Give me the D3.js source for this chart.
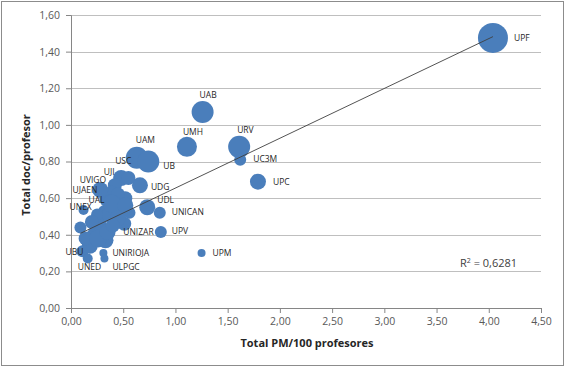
<!DOCTYPE html>
<html>
<meta charset="utf-8" />
<head>
<style>
body { margin: 0; background: #fff; }
svg text { font-family: "Open Sans", "Noto Sans", sans-serif; fill: #404040; }
.tick text { font-size: 10.5px; fill: #595959; }
.lbl { font-size: 8.5px; fill: #262626; }
.title { font-size: 11px; font-weight: bold; fill: #262626; }
</style>
<script src="https://cdn.jsdelivr.net/npm/d3@7"></script>
</head>
<body>
<svg class="chart"></svg>
<script>
var width = 567, height = 368;

/********
 * Data *
 ********/
// university labels ("" = unlabelled bubble)
var names = ["UPF","UAB","UMH","URV","UC3M","UPC","UAM","UB","UDG","UDL","UNICAN","UPV","UPM",
             "USC","UJI","UVIGO","UJAEN","UAL","UNEX","UNIZAR","UBU","UNIRIOJA","UNED","ULPGC",
             "","","","","","","","","","","","",
             "","","","","","","","",""];
// Total PM/100 profesores
var pmValues = [4.04,1.26,1.11,1.61,1.62,1.79,0.63,0.74,0.66,0.73,0.85,0.86,1.25,
                0.48,0.42,0.39,0.33,0.33,0.12,0.51,0.11,0.31,0.16,0.32,
                0.09,0.23,0.33,0.18,0.28,0.37,0.47,0.52,0.45,0.25,0.56,0.14,
                0.28,0.39,0.52,0.45,0.26,0.35,0.20,0.55,0.40];
// Total doc/profesor
var docValues = [1.475,1.07,0.88,0.88,0.81,0.69,0.82,0.80,0.67,0.55,0.52,0.415,0.30,
                 0.71,0.67,0.63,0.59,0.52,0.535,0.46,0.31,0.30,0.27,0.27,
                 0.44,0.40,0.37,0.34,0.45,0.51,0.54,0.60,0.62,0.51,0.52,0.38,
                 0.645,0.57,0.56,0.49,0.38,0.415,0.47,0.71,0.45];
// bubble size
var sizes = [225,121,100,121,36,64,121,121,64,64,36,36,16,
             64,49,49,36,64,25,49,36,16,25,16,
             36,64,64,64,49,64,49,49,49,36,36,49,
             64,81,64,64,81,64,49,49,49];

var xTicks = [0,0.5,1,1.5,2,2.5,3,3.5,4,4.5];
var yTicks = [0,0.2,0.4,0.6,0.8,1.0,1.2,1.4,1.6];

var trendSlope = 0.272, trendIntercept = 0.383;
var rSquared = "0,6281";

// label offsets from bubble centre (layout only)
var labelOffset = {
  UPF:[21,1], UAB:[-3,-16], UMH:[-4,-14], URV:[-2,-16], UC3M:[13,0], UPC:[15,1],
  UAM:[-1,-17], UB:[15,5], UDG:[11,2], UDL:[10,-7], UNICAN:[12,0], UPV:[11,0], UPM:[11,1],
  USC:[-6,-16], UJI:[-11,-13], UVIGO:[-32,-12], UJAEN:[-33,-9], UAL:[-17,-12],
  UNEX:[-14,-2], UNIZAR:[-1,9], UBU:[-17,1], UNIRIOJA:[9,1], UNED:[-10,9], ULPGC:[8,9]
};

var data = names.map(function(n,i){
  return {name:n, x:pmValues[i], y:docValues[i], s:sizes[i]};
});

var fmt = function(v){ return d3.format(".2f")(v).replace(".", ","); };

/**********
 * Scales *
 **********/
var x = d3.scaleLinear().domain([0,4.5]).range([71,541]);
var y = d3.scaleLinear().domain([0,1.6]).range([308,15]);
var r = d3.scaleSqrt().domain([0,d3.max(sizes)]).range([0,15]);

var svg = d3.select(".chart").attr("width",width).attr("height",height);

svg.append("rect")
  .attr("x",1.5).attr("y",1.5).attr("width",562).attr("height",364)
  .attr("fill","#fff").attr("stroke","#8c8c8c");

// gridlines
svg.append("g").selectAll("line")
  .data(yTicks.slice(1))
  .enter().append("line")
  .attr("x1",x(0)).attr("x2",x(4.5))
  .attr("y1",function(d){ return Math.round(y(d))+0.5; })
  .attr("y2",function(d){ return Math.round(y(d))+0.5; })
  .attr("stroke","#bfbfbf");

/********
 * Axes *
 ********/
var xAxis = d3.axisBottom(x).tickValues(xTicks).tickFormat(fmt).tickSize(5).tickPadding(5);
var yAxis = d3.axisLeft(y).tickValues(yTicks).tickFormat(fmt).tickSize(5).tickPadding(6);

var gx = svg.append("g").attr("transform","translate(0,308)").call(xAxis);
var gy = svg.append("g").attr("transform","translate(71,0)").call(yAxis);
[gx,gy].forEach(function(g){
  g.select(".domain").attr("stroke","#868686");
  g.selectAll(".tick line").attr("stroke","#868686");
});

// bubbles
svg.append("g").selectAll("circle")
  .data(data)
  .enter().append("circle")
  .attr("cx",function(d){ return x(d.x); })
  .attr("cy",function(d){ return y(d.y); })
  .attr("r",function(d){ return r(d.s); })
  .attr("fill","#4a7ebb");

// trendline
var xr = d3.extent(pmValues);
svg.append("line")
  .attr("x1",x(xr[0])).attr("y1",y(trendIntercept+trendSlope*xr[0]))
  .attr("x2",x(xr[1])).attr("y2",y(trendIntercept+trendSlope*xr[1]))
  .attr("stroke","#404040").attr("stroke-width",0.9);

// data labels
svg.append("g").selectAll("text")
  .data(data.filter(function(d){ return d.name; }))
  .enter().append("text")
  .attr("class","lbl")
  .attr("x",function(d){ return x(d.x)+labelOffset[d.name][0]; })
  .attr("y",function(d){ return y(d.y)+labelOffset[d.name][1]; })
  .attr("dominant-baseline","middle")
  .text(function(d){ return d.name; });

// R squared
svg.append("text")
  .attr("x",460).attr("y",267)
  .attr("font-size","11px")
  .html("R<tspan dy='-4' font-size='7px'>2</tspan><tspan dy='4'> = " + rSquared + "</tspan>");

// axis titles
svg.append("text").attr("class","title")
  .attr("x",307).attr("y",347).attr("text-anchor","middle")
  .text("Total PM/100 profesores");
svg.append("text").attr("class","title")
  .attr("transform","translate(30,165) rotate(-90)").attr("text-anchor","middle")
  .text("Total doc/profesor");
</script>
</body>
</html>
